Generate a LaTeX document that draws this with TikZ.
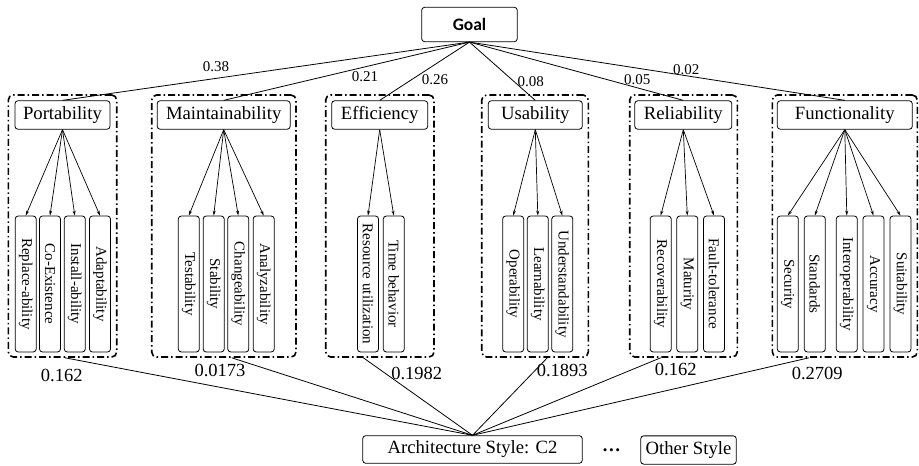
\documentclass[tikz,border=0pt]{standalone}
\usepackage{fontspec}
\setmainfont{Liberation Serif}
\newfontfamily\goalfont{Carlito}
\usetikzlibrary{arrows.meta}
\begin{document}
\begin{tikzpicture}[x=1pt,y=-1pt,
  box/.style={draw, rounded corners=3pt, line width=0.8pt, inner sep=0pt, minimum height=28.5pt, font=\fontsize{18.7}{22}\selectfont},
  leaf/.style={draw, rounded corners=3pt, line width=0.8pt, inner sep=0pt, rotate=-90, minimum width=136pt, minimum height=21pt, font=\fontsize{15}{18}\selectfont},
  grp/.style={draw, rounded corners=5pt, line width=1.6pt, dash pattern=on 7pt off 3pt on 1.5pt off 3pt, inner sep=0pt, minimum height=262pt},
  wt/.style={inner sep=0pt, font=\fontsize{15}{18}\selectfont},
  bwt/.style={inner sep=0pt, font=\fontsize{18.5}{22}\selectfont},
  link/.style={line width=0.8pt},
  arr/.style={line width=0.7pt, -{Stealth[length=5pt,width=3pt]}}
]
\useasboundingbox (0,0) rectangle (919,466);

% goal
\node[box, font=\goalfont\bfseries\fontsize{17.5}{20}\selectfont, minimum width=95.6pt, minimum height=34.4pt] (goal) at (469.5,24.5) {Goal};

% groups
\node[grp, minimum width=108.4pt] (g1) at (62.5,226) {};
\node[grp, minimum width=144.3pt] (g2) at (223.85,226) {};
\node[grp, minimum width=108.3pt] (g3) at (379.85,226) {};
\node[grp, minimum width=106.6pt] (g4) at (535,226) {};
\node[grp, minimum width=107.6pt] (g5) at (683.5,226) {};
\node[grp, minimum width=145pt] (g6) at (844.8,226) {};

% categories
\node[box, minimum width=95pt] (c1) at (62.5,115) {Portability};
\node[box, minimum width=133pt] (c2) at (223.7,115) {Maintainability};
\node[box, minimum width=96pt] (c3) at (379.7,115) {Efficiency};
\node[box, minimum width=94pt] (c4) at (535.3,115) {Usability};
\node[box, minimum width=97pt] (c5) at (683.3,115) {Reliability};
\node[box, minimum width=135pt] (c6) at (844.8,115) {Functionality};

% leaves
\node[leaf] (l11) at (25.7,284) {Replace-ability};
\node[leaf] (l12) at (50,284) {Co-Existence};
\node[leaf] (l13) at (74.8,284) {Install-ability};
\node[leaf] (l14) at (100,284) {Adaptability};

\node[leaf] (l21) at (188.8,284) {Testability};
\node[leaf] (l22) at (213.7,284) {Stability};
\node[leaf] (l23) at (238.3,284) {Changeability};
\node[leaf] (l24) at (263.7,284) {Analyzability};

\node[leaf] (l31) at (368,284) {Resource utilization};
\node[leaf] (l32) at (393.8,284) {Time behavior};

\node[leaf] (l41) at (513.2,284) {Operability};
\node[leaf] (l42) at (537.8,284) {Learnability};
\node[leaf] (l43) at (562.3,284) {Understandability};

\node[leaf] (l51) at (660.7,284) {Recoverability};
\node[leaf] (l52) at (687.3,284) {Maturity};
\node[leaf] (l53) at (714,284) {Fault-tolerance};

\node[leaf] (l61) at (787.8,284) {Security};
\node[leaf] (l62) at (814.8,284) {Standards};
\node[leaf] (l63) at (846.8,284) {Interoperability};
\node[leaf] (l64) at (873.5,284) {Accuracy};
\node[leaf] (l65) at (900.5,284) {Suitability};

% arrows category -> leaves
\foreach \l in {l11,l12,l13,l14} \draw[arr] (c1.south) -- (\l.west);
\foreach \l in {l21,l22,l23,l24} \draw[arr] (c2.south) -- (\l.west);
\foreach \l in {l31,l32} \draw[arr] (c3.south) -- (\l.west);
\foreach \l in {l41,l42,l43} \draw[arr] (c4.south) -- (\l.west);
\foreach \l in {l51,l52,l53} \draw[arr] (c5.south) -- (\l.west);
\foreach \l in {l61,l62,l63,l64,l65} \draw[arr] (c6.south) -- (\l.west);

% goal -> categories
\foreach \c in {c1,c2,c3,c4,c5,c6} \draw[link] (goal.south) -- (\c.north);

% top weights
\node[wt] (w1) at (216,66.7) {0.38};
\node[wt] (w2) at (365,77) {0.21};
\node[wt] (w3) at (435,80) {0.26};
\node[wt] (w4) at (530.7,81.7) {0.08};
\node[wt] (w5) at (637.3,80) {0.05};
\node[wt] (w6) at (686.3,69.3) {0.02};

% bottom
\node[box, minimum width=219.6pt, minimum height=27.6pt] (arch) at (472.5,449.5) {Architecture Style: C2};
\node[box, minimum width=95.6pt, minimum height=28.3pt] (other) at (688.5,450) {Other Style};
\node[inner sep=0pt, font=\fontsize{18.7}{22}\selectfont\bfseries] (dots) at (611.5,450) {\ldots};

\draw[link] ([xshift=2.5pt]g1.south) -- (arch.north);
\draw[link] ([xshift=7.85pt]g2.south) -- (arch.north);
\draw[link] ([xshift=-16.5pt]g3.south) -- (arch.north);
\draw[link] ([xshift=12.3pt]g4.south) -- (arch.north);
\draw[link] ([xshift=-22.8pt]g5.south) -- (arch.north);
\draw[link] ([xshift=-35.8pt]g6.south) -- (arch.north);

% bottom weights
\node[bwt] (v1) at (61.7,375) {0.162};
\node[bwt] (v2) at (220,370.7) {0.0173};
\node[bwt] (v3) at (416.7,373.3) {0.1982};
\node[bwt] (v4) at (562.3,370) {0.1893};
\node[bwt] (v5) at (675.7,369.3) {0.162};
\node[bwt] (v6) at (817.3,373.3) {0.2709};
\end{tikzpicture}
\end{document}
